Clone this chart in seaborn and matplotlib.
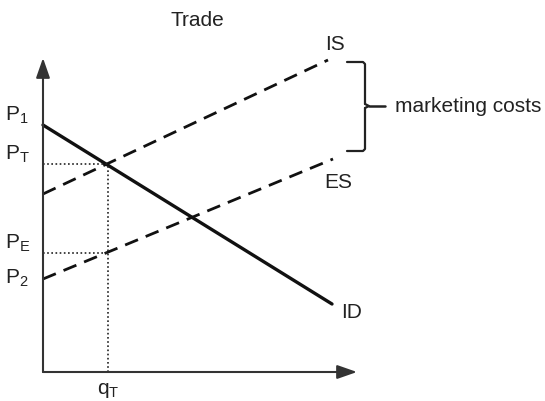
import matplotlib
matplotlib.use("Agg")
import matplotlib.pyplot as plt
import seaborn as sns
import pandas as pd

# Data (in diagram units, origin at the axes corner)
q_ends = [0, 289]
ID = [247, 68]
IS_q = [0, 285]
IS = [178, 312]
ES_q = [0, 290]
ES = [93, 213]
q_T = 65
P_T = 208
P_E = 119
price_labels = ["$\\mathrm{P}_1$", "$\\mathrm{P}_\\mathrm{T}$", "$\\mathrm{P}_\\mathrm{E}$", "$\\mathrm{P}_2$"]
price_values = [247, 208, 119, 84]

sns.set_theme(style="white")
plt.rcParams["font.family"] = ["Liberation Sans", "DejaVu Sans"]
plt.rcParams["mathtext.fontset"] = "custom"
plt.rcParams["mathtext.rm"] = "Liberation Sans"
plt.rcParams["mathtext.it"] = "Liberation Sans"

fig = plt.figure(figsize=(5.45, 4.01), dpi=100)
ax = fig.add_axes([0, 0, 1, 1])
ax.set_xlim(-43, 502)
ax.set_ylim(-29, 372)
ax.axis("off")

df_id = pd.DataFrame({"q": q_ends, "p": ID})
df_is = pd.DataFrame({"q": IS_q, "p": IS})
df_es = pd.DataFrame({"q": ES_q, "p": ES})
sns.lineplot(data=df_id, x="q", y="p", ax=ax, color="#111111", lw=2.4)
sns.lineplot(data=df_is, x="q", y="p", ax=ax, color="#111111", lw=2.0, dashes=False,
             linestyle=(0, (5, 3)))
sns.lineplot(data=df_es, x="q", y="p", ax=ax, color="#111111", lw=2.0,
             linestyle=(0, (5, 3)))

# axes with arrows
ax.annotate("", xy=(0, 314), xytext=(0, 0),
            arrowprops=dict(arrowstyle="-|>,head_length=1.0,head_width=0.35", color="#333333", lw=1.5,
                            shrinkA=0, shrinkB=0))
ax.annotate("", xy=(314, 0), xytext=(0, 0),
            arrowprops=dict(arrowstyle="-|>,head_length=1.0,head_width=0.35", color="#333333", lw=1.5,
                            shrinkA=0, shrinkB=0))

# dotted guides
ax.plot([0, q_T], [P_T, P_T], color="#222222", lw=1.2, linestyle=(0, (1, 1.5)))
ax.plot([0, q_T], [P_E, P_E], color="#222222", lw=1.2, linestyle=(0, (1, 1.5)))
ax.plot([q_T, q_T], [0, P_T], color="#222222", lw=1.2, linestyle=(0, (1, 1.5)))

fs = 15
for lab, v in zip(price_labels, price_values):
    ax.text(-38, v + 10, lab, fontsize=fs, ha="left", va="center", color="#222222")
ax.text(q_T, -18, "$\\mathrm{q}_\\mathrm{T}$", fontsize=fs, ha="center", va="center", color="#222222")

ax.text(292, 327, "IS", fontsize=fs, ha="center", va="center", color="#222222")
ax.text(295, 189, "ES", fontsize=fs, ha="center", va="center", color="#222222")
ax.text(309, 60, "ID", fontsize=fs, ha="center", va="center", color="#222222")
ax.text(154, 352, "Trade", fontsize=fs, ha="center", va="center", color="#222222")

# brace
bx = [304, 320, 322, 322, 326, 342]
ax.plot([304, 320, 322, 322], [310, 310, 308, 268], color="#222222", lw=1.6)
ax.plot([322, 326, 322], [268, 266, 264], color="#222222", lw=1.6)
ax.plot([322, 322, 320, 304], [264, 223, 221, 221], color="#222222", lw=1.6)
ax.plot([326, 342], [266, 266], color="#222222", lw=1.8)
ax.text(352, 266, "marketing costs", fontsize=fs, ha="left", va="center", color="#222222")

fig.savefig("out.png", dpi=100)
